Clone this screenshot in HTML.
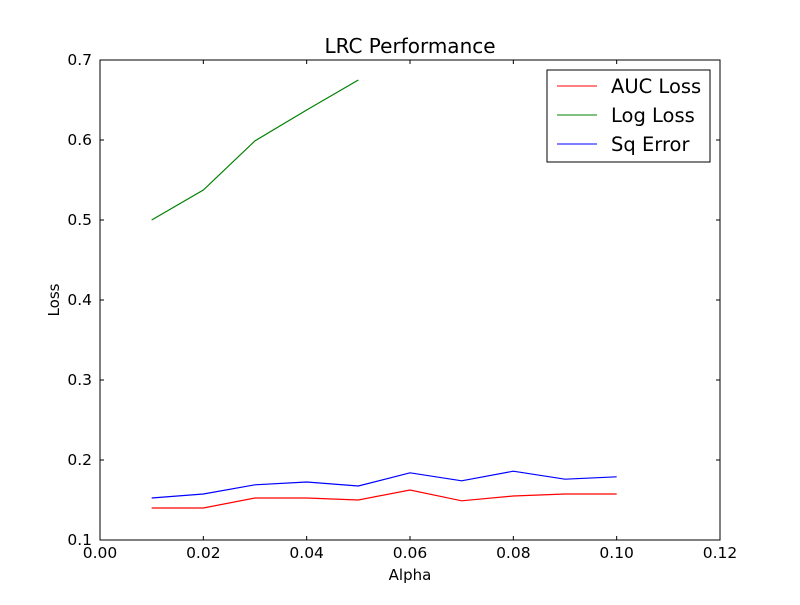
<!DOCTYPE html>
<html><head><meta charset="utf-8"><style>body{margin:0;background:#fff}svg{font-family:"DejaVu Sans","Liberation Sans",sans-serif}</style></head>
<body>
<svg id="chart" width="800" height="600" viewBox="0 0 800 600">
<rect width="800" height="600" fill="#fff"/>
<text x="410" y="53" font-size="20" text-anchor="middle">LRC Performance</text>
<g id="ticks"></g>
<g id="series"></g>
<rect x="100" y="60" width="620" height="480" fill="none" stroke="#000" stroke-width="1"/>
<text x="410" y="580" font-size="15" text-anchor="middle">Alpha</text>
<text x="59" y="300" font-size="15" text-anchor="middle" transform="rotate(-90 59 300)">Loss</text>
<g>
<rect x="547" y="70" width="163" height="92" fill="#fff" stroke="#000"/>
<line x1="557" x2="597" y1="86" y2="86" stroke="red"/>
<text x="611" y="93" font-size="19.5">AUC Loss</text>
<line x1="557" x2="597" y1="115" y2="115" stroke="green"/>
<text x="611" y="122" font-size="19.5">Log Loss</text>
<line x1="557" x2="597" y1="144" y2="144" stroke="blue"/>
<text x="611" y="151" font-size="19.5">Sq Error</text>
</g>
</svg>
<script>
const alphaAll = [0.01,0.02,0.03,0.04,0.05,0.06,0.07,0.08,0.09,0.10];
const alphaLog = [0.01,0.02,0.03,0.04,0.05];
const aucLoss = [0.14,0.14,0.1525,0.1525,0.15,0.1625,0.149,0.155,0.1575,0.1575];
const logLoss = [0.5,0.5375,0.599,0.6375,0.675];
const sqError = [0.1525,0.1575,0.169,0.1725,0.1675,0.184,0.174,0.186,0.176,0.179];
const xTicks = ["0.00","0.02","0.04","0.06","0.08","0.10","0.12"];
const yTicks = ["0.1","0.2","0.3","0.4","0.5","0.6","0.7"];
const NS="http://www.w3.org/2000/svg";
const xs=v=>100+v/0.12*620, ys=v=>540-(v-0.1)/0.6*480;
const tg=document.getElementById('ticks'), sg=document.getElementById('series');
function mk(tag,a,p){const e=document.createElementNS(NS,tag);for(const k in a)e.setAttribute(k,a[k]);p.appendChild(e);return e;}
xTicks.forEach(t=>{const x=xs(+t);
 mk('line',{x1:x,x2:x,y1:540,y2:536,stroke:'#000'},tg);mk('line',{x1:x,x2:x,y1:60,y2:64,stroke:'#000'},tg);
 const e=mk('text',{x:x,y:558,'font-size':15.5,'text-anchor':'middle'},tg);e.textContent=t;
 
 });
yTicks.forEach(t=>{const y=ys(+t);
 mk('line',{x1:100,x2:104,y1:y,y2:y,stroke:'#000'},tg);mk('line',{x1:720,x2:716,y1:y,y2:y,stroke:'#000'},tg);
 const e=mk('text',{x:92,y:y+5,'font-size':15.5,'text-anchor':'end'},tg);e.textContent=t;
 
 });
function line(xv,yv,c,name){const p=mk('polyline',{points:xv.map((x,i)=>xs(x)+','+ys(yv[i])).join(' '),fill:'none',stroke:c,'stroke-width':1.2},sg);
 
 }
line(alphaAll,aucLoss,'red','auc-loss-line');
line(alphaLog,logLoss,'green','log-loss-line');
line(alphaAll,sqError,'blue','sq-error-line');
</script>
</body></html>
